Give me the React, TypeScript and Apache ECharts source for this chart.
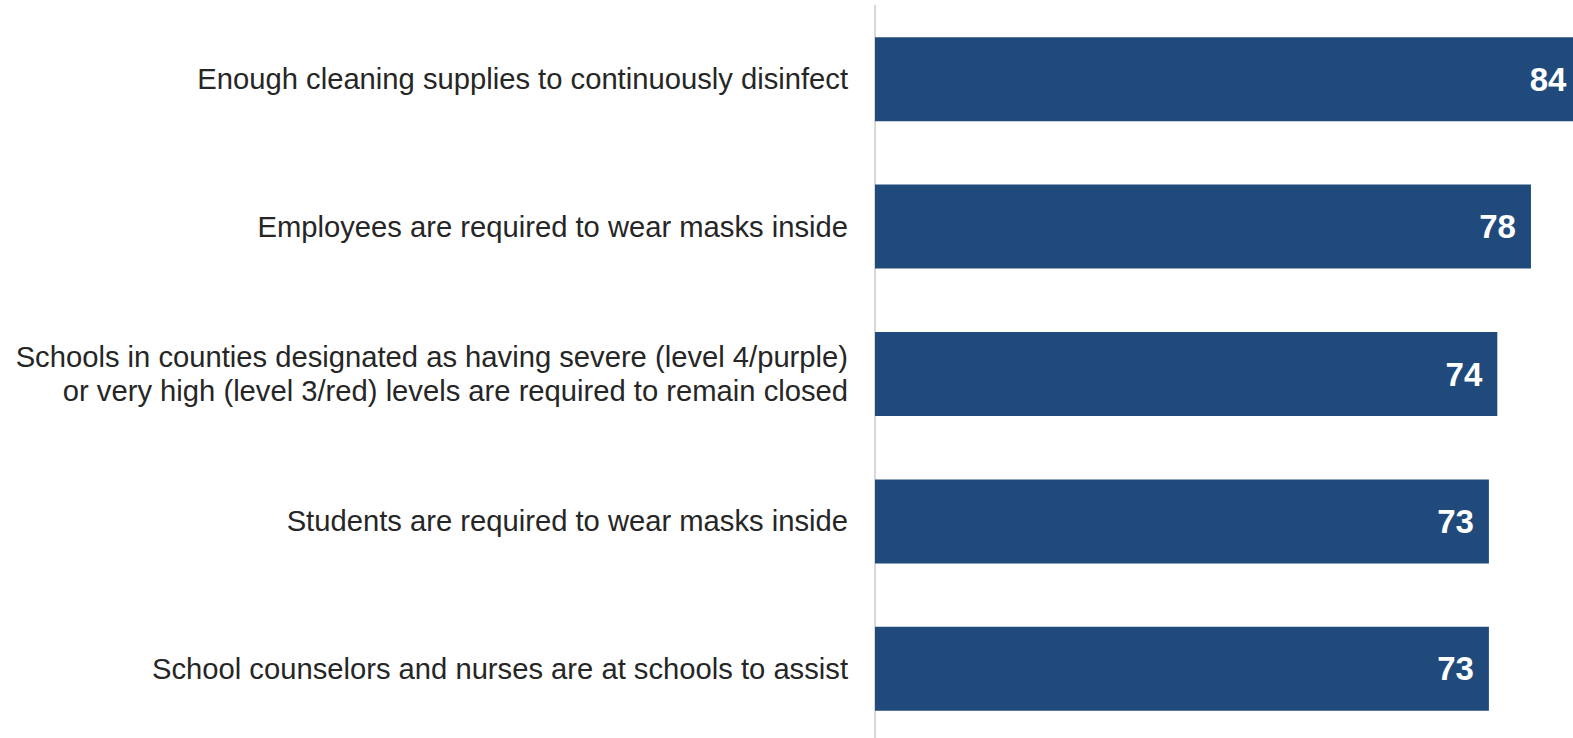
import React, { useEffect, useRef } from "react";
import * as echarts from "echarts";

const categories = [
  "Enough cleaning supplies to continuously disinfect",
  "Employees are required to wear masks inside",
  "Schools in counties designated as having severe (level 4/purple)\nor very high (level 3/red) levels are required to remain closed",
  "Students are required to wear masks inside",
  "School counselors and nurses are at schools to assist",
];
const values = [84, 78, 74, 73, 73];

export default function App() {
  const ref = useRef<HTMLDivElement>(null);
  useEffect(() => {
    document.body.style.margin = "0";
    const chart = echarts.init(ref.current!, null, { renderer: "svg" });
    chart.setOption({
      animation: false,
      backgroundColor: "#ffffff",
      grid: {
        left: 875,
        right: 0,
        top: 5.5,
        height: 737,
        containLabel: false,
        outerBoundsMode: "none",
      },
      xAxis: {
        type: "value",
        min: 0,
        max: 83,
        show: false,
      },
      yAxis: {
        type: "category",
        data: categories,
        inverse: true,
        axisLine: { show: true, lineStyle: { color: "#d9d9d9", width: 2 } },
        axisTick: { show: false },
        axisLabel: {
          margin: 27,
          fontSize: 29.2,
          lineHeight: 34,
          color: "#262626",
          fontFamily: "Liberation Sans, Arial, sans-serif",
          align: "right",
        },
      },
      series: [
        {
          type: "bar",
          data: values,
          clip: false,
          barCategoryGap: "43%",
          itemStyle: { color: "#204a7c" },
          label: {
            show: true,
            position: "insideRight",
            distance: 15,
            color: "#ffffff",
            fontWeight: "bold",
            fontSize: 33,
            fontFamily: "Liberation Sans, Arial, sans-serif",
          },
        },
      ],
    });
    return () => chart.dispose();
  }, []);
  return (
    <div
      ref={ref}
      style={{ position: "fixed", left: 0, top: 0, width: 1573, height: 738 }}
    />
  );
}
